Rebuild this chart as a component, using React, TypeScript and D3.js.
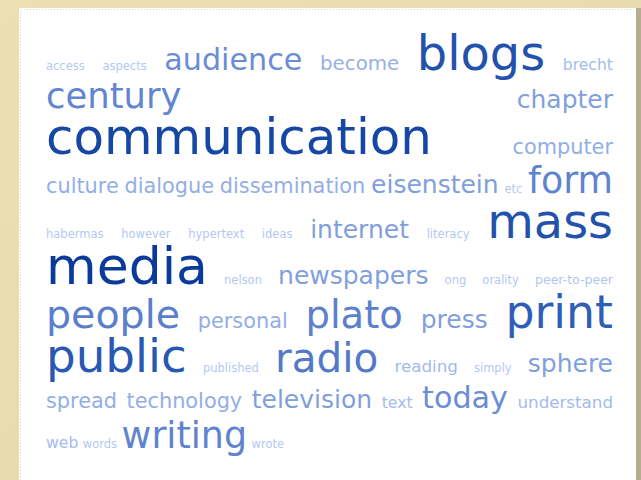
import React, { useEffect, useRef } from 'react'
import * as d3 from 'd3'

// tag cloud: words in alphabetical order with their weights
const words = [
  'access', 'aspects', 'audience', 'become', 'blogs', 'brecht',
  'century', 'chapter', 'communication', 'computer',
  'culture', 'dialogue', 'dissemination', 'eisenstein', 'etc', 'form',
  'habermas', 'however', 'hypertext', 'ideas', 'internet', 'literacy', 'mass',
  'media', 'nelson', 'newspapers', 'ong', 'orality', 'peer-to-peer',
  'people', 'personal', 'plato', 'press', 'print',
  'public', 'published', 'radio', 'reading', 'simply', 'sphere',
  'spread', 'technology', 'television', 'text', 'today', 'understand',
  'web', 'words', 'writing', 'wrote',
]
const counts = [
  1, 1, 19, 9, 36, 5,
  24, 14, 38, 10,
  10, 10, 10, 14, 1, 25,
  1, 1, 1, 1, 14, 1, 36,
  40, 1, 14, 1, 1, 2,
  28, 10, 27, 14, 34,
  35, 1, 29, 6, 1, 14,
  10, 10, 14, 5, 19, 6,
  5, 1, 25, 1,
]

const W = 641
const H = 480
const FONT = '"DejaVu Sans", Verdana, sans-serif'

export default function App() {
  const ref = useRef<SVGSVGElement | null>(null)

  useEffect(() => {
    if (!ref.current) return
    const svg = d3.select(ref.current)
    svg.selectAll('*').remove()

    const panel = { x: 19, y: 8, right: 636 }
    const left = 46
    const right = 613
    const avail = right - left

    const size = d3.scaleLinear().domain([1, 40]).range([11.5, 52])
    const color = d3
      .scaleLinear<string>()
      .domain([1, 10, 19, 28, 34, 40])
      .range(['#b4c8f3', '#93aee5', '#6b8dd3', '#5a7ecb', '#2f5eb7', '#0a3b9a'])
      .interpolate(d3.interpolateRgb)

    // background
    const defs = svg.append('defs')
    const grad = defs.append('linearGradient').attr('id', 'bg').attr('x1', 0).attr('y1', 0).attr('x2', 1).attr('y2', 1)
    grad.append('stop').attr('offset', '0%').attr('stop-color', '#ecdfb2')
    grad.append('stop').attr('offset', '100%').attr('stop-color', '#e6d8aa')
    svg.append('rect').attr('width', W).attr('height', H).attr('fill', 'url(#bg)')
    svg.append('rect').attr('x', panel.right).attr('y', panel.y).attr('width', W - panel.right).attr('height', H - panel.y).attr('fill', '#b6ad8f')
    svg.append('rect').attr('x', panel.x).attr('y', panel.y).attr('width', panel.right - panel.x).attr('height', H - panel.y).attr('fill', '#ffffff')
    svg.append('path')
      .attr('d', `M${panel.x + 1.5},${H} V${panel.y + 1.5} H${panel.right}`)
      .attr('fill', 'none')
      .attr('stroke', '#d4d4d4')
      .attr('stroke-dasharray', '1 2')

    // measure words
    const probe = svg.append('text').style('font-family', FONT)
    const items = words.map((w, i) => {
      const fs = size(counts[i])
      probe.style('font-size', fs + 'px').text(w)
      const width = (probe.node() as SVGTextElement).getComputedTextLength()
      return { word: w, count: counts[i], fs, width }
    })
    probe.remove()

    // greedy line wrap, gap = a fraction of the preceding word's size
    type Item = (typeof items)[number]
    const lines: Item[][] = []
    let cur: Item[] = []
    let curW = 0
    for (const it of items) {
      if (cur.length) {
        const gap = cur[cur.length - 1].fs * 0.25
        if (curW + gap + it.width > avail) {
          lines.push(cur)
          cur = []
          curW = 0
        } else {
          curW += gap
        }
      }
      cur.push(it)
      curW += it.width
    }
    if (cur.length) lines.push(cur)

    const g = svg.append('g').style('font-family', FONT)
    let baseline = panel.y + 40
    lines.forEach((line, li) => {
      const maxFs = d3.max(line, (d) => d.fs) || 12
      baseline += (li === 0 ? 0 : 23) + 0.45 * maxFs
      const last = li === lines.length - 1
      const total = d3.sum(line, (d) => d.width)
      const gap = last || line.length < 2 ? 4.5 : (avail - total) / (line.length - 1)
      let x = left
      line.forEach((d) => {
        g.append('text')
          .attr('x', x)
          .attr('y', baseline)
          .attr('fill', color(d.count))
          .style('font-size', d.fs + 'px')
          .text(d.word)
        x += d.width + gap
      })
    })
  }, [])

  return (
    <svg
      ref={ref}
      width={W}
      height={H}
      style={{ position: 'fixed', left: 0, top: 0, display: 'block' }}
    />
  )
}
